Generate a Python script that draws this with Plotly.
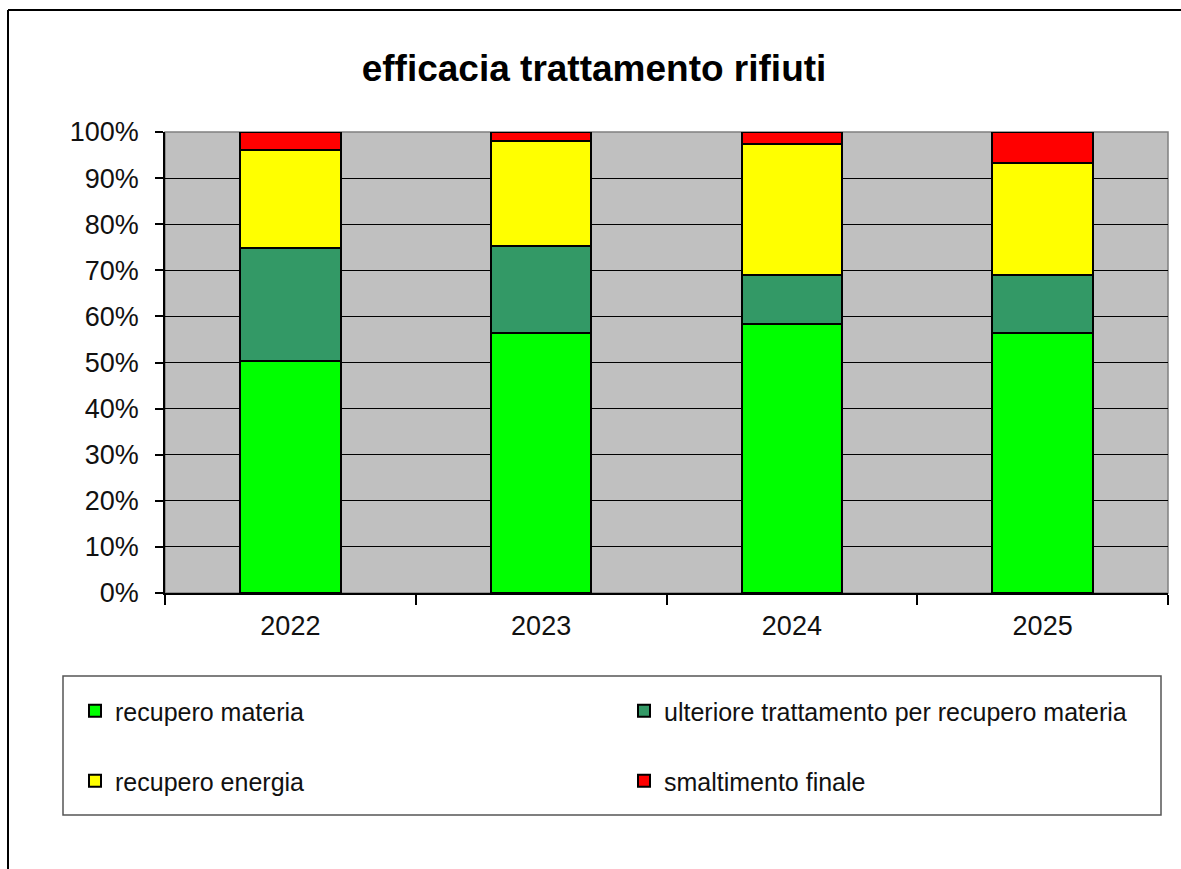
import plotly.graph_objects as go

# Waste-treatment shares by year (percent of total)
years = ["2022", "2023", "2024", "2025"]
recupero_materia = [50.4, 56.3, 58.4, 56.5]
ulteriore_trattamento = [24.4, 19.0, 10.5, 12.4]
recupero_energia = [21.3, 22.7, 28.4, 24.4]
smaltimento_finale = [3.9, 2.0, 2.7, 6.7]

series = [
    ("recupero materia", recupero_materia, "#00FF00", "legend"),
    ("ulteriore trattamento per recupero materia", ulteriore_trattamento, "#339966", "legend"),
    ("recupero energia", recupero_energia, "#FFFF00", "legend2"),
    ("smaltimento finale", smaltimento_finale, "#FF0000", "legend2"),
]

W, H = 1181, 869
L, R, T, B = 165, 1168, 132, 593  # plot area in pixels


def px_x(p):
    return (p - L) / (R - L)


def px_y(p):
    return (B - p) / (B - T)


fig = go.Figure()
for name, vals, color, leg in series:
    fig.add_trace(go.Bar(
        x=years, y=vals, name=name, legend=leg,
        marker=dict(color=color, line=dict(color="black", width=2)),
    ))

font_family = "Arial, Liberation Sans, sans-serif"

fig.update_layout(
    width=W, height=H,
    margin=dict(l=L, r=W - R, t=T, b=H - B, pad=0),
    barmode="stack",
    bargap=0.6,
    paper_bgcolor="white",
    plot_bgcolor="#C0C0C0",
    font=dict(family=font_family, size=27, color="black"),
    title=dict(
        text="<b>efficacia trattamento rifiuti</b>",
        font=dict(size=37, family=font_family, color="black"),
        xref="container", x=0.503, xanchor="center",
        yref="container", y=1 - 68 / H, yanchor="middle",
    ),
    xaxis=dict(
        type="category", tickson="boundaries", ticks="outside", ticklen=10,
        tickcolor="black", tickwidth=1.5, showline=True, linecolor="black",
        linewidth=1.5, showgrid=False, ticklabelstandoff=8,
        tickfont=dict(size=27, color="#111"),
    ),
    yaxis=dict(
        range=[0, 100], dtick=10, ticksuffix="%", ticks="outside", ticklen=8,
        tickcolor="black", tickwidth=1.5, showline=True, linecolor="black",
        linewidth=1.5, showgrid=True, gridcolor="black", gridwidth=1,
        zeroline=False, ticklabelstandoff=11,
        tickfont=dict(size=27, color="#111"),
    ),
    legend=dict(
        orientation="h", x=px_x(75), xanchor="left", y=px_y(711), yanchor="middle",
        entrywidth=504, bgcolor="rgba(0,0,0,0)", borderwidth=0,
        font=dict(size=25, color="#111"), traceorder="normal",
    ),
    legend2=dict(
        orientation="h", x=px_x(75), xanchor="left", y=px_y(781), yanchor="middle",
        entrywidth=504, bgcolor="rgba(0,0,0,0)", borderwidth=0,
        font=dict(size=25, color="#111"), traceorder="normal",
    ),
    showlegend=True,
)

shapes = [
    # grey frame of the plot area (top/right edges)
    dict(type="rect", xref="paper", yref="paper", x0=0, x1=1, y0=0, y1=1,
         line=dict(color="#808080", width=1.5), layer="below"),
    # legend box
    dict(type="rect", xref="paper", yref="paper",
         x0=px_x(63), x1=px_x(1161), y0=px_y(815), y1=px_y(676),
         line=dict(color="#555", width=1.5), fillcolor="rgba(0,0,0,0)"),
    # outer chart frame
    dict(type="line", xref="paper", yref="paper",
         x0=px_x(8), x1=px_x(8), y0=px_y(900), y1=px_y(10),
         line=dict(color="black", width=2)),
    dict(type="line", xref="paper", yref="paper",
         x0=px_x(8), x1=px_x(1200), y0=px_y(10), y1=px_y(10),
         line=dict(color="black", width=2)),
]
fig.update_layout(shapes=shapes)

fig.write_html("out.html")
